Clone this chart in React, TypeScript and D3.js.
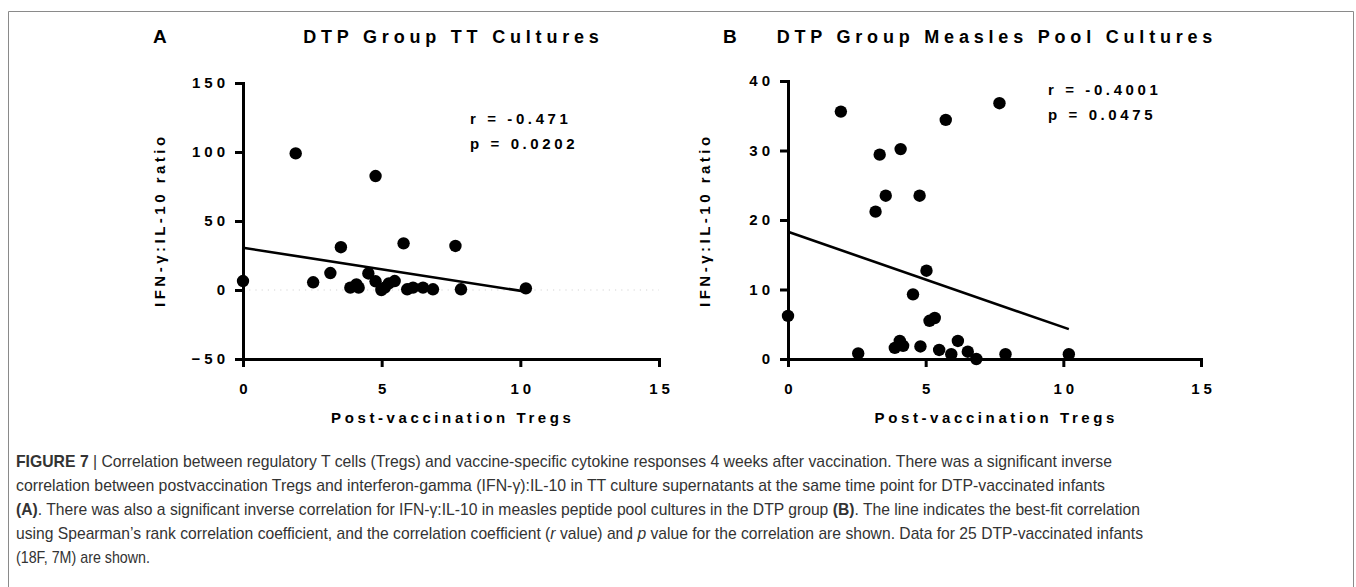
import React, { useRef, useEffect } from 'react';
import * as d3 from 'd3';

// panel A: DTP group, TT cultures
const tregsA = [0, 1.9, 2.53, 3.15, 3.53, 3.87, 4.09, 4.17, 4.52, 4.78, 4.78, 4.99, 5.11, 5.26, 5.47, 5.79, 5.92, 6.13, 6.49, 6.85, 7.66, 7.86, 10.2];
const ratioA = [6.5, 99, 5.6, 12.3, 31, 1.7, 4.1, 1.7, 12, 82.6, 6.3, 0, 1.7, 4.8, 6.5, 33.8, 0.5, 1.7, 1.7, 0.5, 31.9, 0.5, 1.2];
const fitXA = [0, 10.2];
const fitYA = [30.6, -1.2];

// panel B: DTP group, measles pool cultures
const tregsB = [0, 1.92, 2.55, 3.18, 3.33, 3.55, 3.88, 4.06, 4.09, 4.18, 4.54, 4.78, 4.81, 5.03, 5.14, 5.33, 5.49, 5.73, 5.93, 6.17, 6.53, 6.84, 7.68, 7.9, 10.2];
const ratioB = [6.2, 35.6, 0.8, 21.2, 29.4, 23.5, 1.6, 2.6, 30.2, 1.9, 9.3, 23.5, 1.8, 12.7, 5.5, 5.9, 1.3, 34.4, 0.7, 2.6, 1.05, 0, 36.8, 0.7, 0.7];
const fitXB = [0, 10.2];
const fitYB = [18.3, 4.3];

const xTicks = [0, 5, 10, 15];
const yTicksA = [-50, 0, 50, 100, 150];
const yTicksB = [0, 10, 20, 30, 40];

const panels = [
  {
    letter: 'A', title: 'DTP Group TT Cultures', x: tregsA, y: ratioA, fx: fitXA, fy: fitYA,
    yDomain: [-50, 150], yTicks: yTicksA, stats: ['r = -0.471', 'p = 0.0202'],
    xRange: [243, 659], yRange: [359, 83], letterX: 153, statX: 470, statY: 124,
  },
  {
    letter: 'B', title: 'DTP Group Measles Pool Cultures', x: tregsB, y: ratioB, fx: fitXB, fy: fitYB,
    yDomain: [0, 40], yTicks: yTicksB, stats: ['r = -0.4001', 'p = 0.0475'],
    xRange: [788, 1201], yRange: [359, 81], letterX: 723, statX: 1048, statY: 95,
  },
];

const caption = [
  [{ t: 'FIGURE 7', b: true }, { t: ' | Correlation between regulatory T cells (Tregs) and vaccine-specific cytokine responses 4 weeks after vaccination. There was a significant inverse' }],
  [{ t: 'correlation between postvaccination Tregs and interferon-gamma (IFN-γ):IL-10 in TT culture supernatants at the same time point for DTP-vaccinated infants' }],
  [{ t: '(A)', b: true }, { t: '. There was also a significant inverse correlation for IFN-γ:IL-10 in measles peptide pool cultures in the DTP group ' }, { t: '(B)', b: true }, { t: '. The line indicates the best-fit correlation' }],
  [{ t: 'using Spearman’s rank correlation coefficient, and the correlation coefficient (' }, { t: 'r', i: true }, { t: ' value) and ' }, { t: 'p', i: true }, { t: ' value for the correlation are shown. Data for 25 DTP-vaccinated infants' }],
  [{ t: '(18F, 7M) are shown.' }],
];
const captionEnds = [1112, 1105, 1140, 1143, 150];

const FONT = '"Liberation Sans", Arial, sans-serif';

const App = () => {
  const svgRef = useRef(null);

  useEffect(() => {
    const svg = d3.select(svgRef.current);
    svg.selectAll('*').remove();

    // frame
    svg.append('path')
      .attr('d', 'M8.5,587V11.5H1353.5V587')
      .attr('fill', 'none')
      .attr('stroke', '#8a8a8a')
      .attr('stroke-width', 1);

    panels.forEach(p => {
      const x = d3.scaleLinear().domain([0, 15]).range(p.xRange);
      const y = d3.scaleLinear().domain(p.yDomain).range(p.yRange);
      const g = svg.append('g').style('font-family', FONT);

      g.append('text')
        .attr('x', p.letterX).attr('y', 43)
        .attr('font-size', 19).attr('font-weight', 'bold')
        .text(p.letter);

      g.append('text')
        .attr('x', (p.xRange[0] + p.xRange[1]) / 2 + 2.4).attr('y', 43)
        .attr('text-anchor', 'middle')
        .attr('font-size', 18).attr('font-weight', 'bold')
        .style('letter-spacing', '4.8px')
        .text(p.title);

      // dotted zero line
      g.append('line')
        .attr('x1', x(0)).attr('x2', x(15))
        .attr('y1', y(0)).attr('y2', y(0))
        .attr('stroke', '#d4d4d4').attr('stroke-width', 1.2)
        .attr('stroke-dasharray', '1.2,5');

      const xAxis = g.append('g')
        .attr('transform', `translate(0,${p.yRange[0]})`)
        .call(d3.axisBottom(x).tickValues(xTicks).tickSize(8).tickSizeOuter(0).tickPadding(16));
      const yAxis = g.append('g')
        .attr('transform', `translate(${p.xRange[0]},0)`)
        .call(d3.axisLeft(y).tickValues(p.yTicks).tickSize(8).tickSizeOuter(0).tickPadding(6));

      [xAxis, yAxis].forEach(a => {
        a.select('.domain').attr('stroke', '#000').attr('stroke-width', 3).attr('stroke-linecap', 'square');
        a.selectAll('.tick line').attr('stroke', '#000').attr('stroke-width', 3);
        a.selectAll('.tick text')
          .attr('fill', '#000')
          .attr('font-family', FONT)
          .attr('font-size', 15)
          .attr('font-weight', 'bold')
          .style('letter-spacing', '4px');
      });
      xAxis.selectAll('.tick text').attr('dx', '2px');

      const line = d3.line<number>()
        .x(i => x(p.fx[i]))
        .y(i => y(p.fy[i]));
      g.append('path')
        .attr('d', line(d3.range(p.fx.length)))
        .attr('fill', 'none')
        .attr('stroke', '#000')
        .attr('stroke-width', 2.6);

      g.append('g')
        .selectAll('circle')
        .data(d3.range(p.x.length))
        .enter()
        .append('circle')
        .attr('cx', i => x(p.x[i]))
        .attr('cy', i => y(p.y[i]))
        .attr('r', 6.2)
        .attr('fill', '#000');

      p.stats.forEach((s, i) => {
        g.append('text')
          .attr('x', p.statX).attr('y', p.statY + i * 25)
          .attr('font-size', 15).attr('font-weight', 'bold')
          .style('letter-spacing', '3.6px')
          .text(s);
      });

      g.append('text')
        .attr('x', (p.xRange[0] + p.xRange[1]) / 2 + 1.8).attr('y', 423)
        .attr('text-anchor', 'middle')
        .attr('font-size', 15).attr('font-weight', 'bold')
        .style('letter-spacing', '3.6px')
        .text('Post-vaccination Tregs');

      g.append('text')
        .attr('transform', `translate(${p.xRange[0] - 78},222) rotate(-90)`)
        .attr('dx', 1.8)
        .attr('text-anchor', 'middle')
        .attr('font-size', 15).attr('font-weight', 'bold')
        .style('letter-spacing', '3.5px')
        .text('IFN-γ:IL-10 ratio');
    });

    // caption
    const cap = svg.append('g')
      .style('font-family', '"Liberation Sans Narrow", "Liberation Sans", Arial, sans-serif')
      .attr('fill', '#333');
    caption.forEach((parts, li) => {
      const t = cap.append('text')
        .attr('x', 16).attr('y', 467 + li * 24)
        .attr('font-size', 17)
        .attr('textLength', captionEnds[li] - 16)
        .attr('lengthAdjust', 'spacingAndGlyphs');
      parts.forEach(part => {
        t.append('tspan')
          .attr('font-weight', part.b ? 'bold' : null)
          .attr('font-style', part.i ? 'italic' : null)
          .text(part.t);
      });
    });
  }, []);

  return (
    <svg
      ref={svgRef}
      width={1356}
      height={587}
      style={{ position: 'absolute', left: 0, top: 0, background: '#fff' }}
    />
  );
};

export default App;
